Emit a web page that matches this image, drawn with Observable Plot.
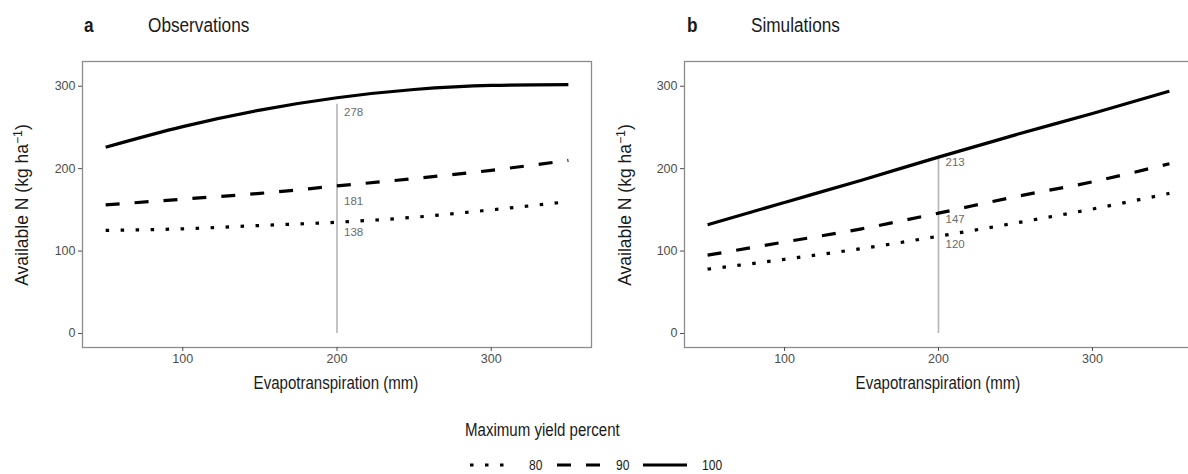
<!DOCTYPE html>
<html><head><meta charset="utf-8">
<script src="https://cdn.jsdelivr.net/npm/d3@7"></script>
<script src="https://cdn.jsdelivr.net/npm/@observablehq/plot@0.6"></script>
<style>
body{margin:0;background:#fff;overflow:hidden;font-family:"Liberation Sans",Arial,sans-serif;color:#1a1a1a;}
#root{position:relative;width:1188px;height:474px;overflow:hidden;}
.abs{position:absolute;white-space:nowrap;line-height:1;}
.c{transform:translate(-50%,-50%) scaleX(0.86);}
.vc{transform:translateY(-50%) scaleX(0.86);transform-origin:0 50%;}
.ytitle{transform:translate(-50%,-50%) rotate(-90deg);font-size:17.5px;}
.xtitle{font-size:17.5px;}
sup{font-size:70%;line-height:0;vertical-align:0.55em;}
.legrow{display:flex;align-items:center;color:#1a1a1a;}
.legrow span{font-size:14px;display:inline-block;transform:scaleX(0.86);transform-origin:0 50%;}
svg{max-width:none !important;}
</style></head><body><div id="root"></div>
<script>
// ---- data ----
const et = [50, 100, 150, 200, 250, 300, 350];           // Evapotranspiration (mm)
const yieldLevels = ["80", "90", "100"];                   // Maximum yield percent
const obs80  = [125, 127, 131, 135, 141, 150, 160];
const obs90  = [156, 163, 170, 179, 188, 198, 210];
const obs100 = [226, 251, 271, 286, 296, 301, 302];
const sim80  = [78, 90, 103, 118, 134, 151, 170];
const sim90  = [95, 111, 127, 146, 166, 184, 206];
const sim100 = [132, 159, 186, 214, 241, 267, 294];
const refET = 200;
const obsRefTop = 278, simRefTop = 213;
const obsLabels = [278, 181, 138];
const obsLabelAt = [268, 160, 123];
const simLabels = [213, 147, 120];
const simLabelAt = [208, 139, 108];
const xTicks = [100, 200, 300];
const yTicks = [0, 100, 200, 300];
const panelTitles = [["a", "Observations"], ["b", "Simulations"]];
const xTitle = "Evapotranspiration (mm)";
const legendTitle = "Maximum yield percent";

const dash = {"80": "3.5,11.5", "90": "14,15", "100": null};

function rows(series) {
  const out = [];
  yieldLevels.forEach((lv, k) => et.forEach((e, i) => out.push({et: e, n: series[k][i], level: lv})));
  return out;
}

function panel(series, refTop, labels, labelAt, opts) {
  const data = rows(series);
  const lines = yieldLevels.map(lv => Plot.line(data.filter(d => d.level === lv), {
    x: "et", y: "n", stroke: "#000", strokeWidth: 3.2, curve: "monotone-x",
    strokeDasharray: dash[lv] || undefined, strokeLinecap: "butt"
  }));
  const lab = labels.map((v, i) => ({et: refET, y: labelAt[i], t: String(v)}));
  const svg = Plot.plot({
    width: opts.width, height: 400,
    marginLeft: opts.ml, marginRight: opts.mr, marginTop: 61, marginBottom: 53,
    x: {domain: [35, 365]},
    y: {domain: [-17, 330]},
    style: {fontFamily: "Liberation Sans, Arial, sans-serif", fontSize: "12.5px", background: "transparent", overflow: "visible"},
    marks: [
      Plot.ruleX([{x: refET, y1: 0, y2: refTop}], {x: "x", y1: "y1", y2: "y2", stroke: "#b5b5b5", strokeWidth: 1.6}),
      ...lines,
      Plot.text(lab, {x: "et", y: "y", text: "t", textAnchor: "start", dx: 7, fill: "#6b6b6b", fontSize: 11.5}),
      Plot.frame({stroke: "#8c8c8c", strokeWidth: 1.3}),
      Plot.axisX({ticks: xTicks, label: null, tickSize: 4, tickPadding: 3, color: "#4d4d4d", fontSize: 12.5}),
      Plot.axisY({ticks: yTicks, label: null, tickSize: 4, tickPadding: 3, color: "#4d4d4d", fontSize: 12.5})
    ]
  });
  svg.style.maxWidth = "none";
  return svg;
}

const root = document.getElementById("root");
function place(el, left, top, width) {
  const w = document.createElement("div");
  w.className = "abs"; w.style.left = left + "px"; w.style.top = top + "px";
  if (width) w.style.width = width + "px";
  w.appendChild(el); root.appendChild(w); return w;
}
function txt(html, left, top, cls, style) {
  const d = document.createElement("div");
  d.className = "abs " + (cls || ""); d.innerHTML = html;
  d.style.left = left + "px"; d.style.top = top + "px";
  if (style) Object.assign(d.style, style);
  root.appendChild(d); return d;
}

place(panel([obs80, obs90, obs100], obsRefTop, obsLabels, obsLabelAt, {width: 594, ml: 82, mr: 3}), 0, 0, 594);
place(panel([sim80, sim90, sim100], simRefTop, simLabels, simLabelAt, {width: 600, ml: 90, mr: 2}), 594, 0, 600);

// panel titles
[[84, 148], [687, 751]].forEach(([xa, xb], i) => {
  txt(panelTitles[i][0], xa, 25, "vc", {fontSize: "20px", fontWeight: "bold"});
  txt(panelTitles[i][1], xb, 25, "vc", {fontSize: "20px"});
});
// axis titles
const yt = "Available N (kg ha<sup>\u22121</sup>)";
txt(yt, 23, 205, "ytitle");
txt(yt, 626, 205, "ytitle");
txt(xTitle, 336, 384, "c xtitle");
txt(xTitle, 938, 384, "c xtitle");

// legend
txt(legendTitle, 465, 431, "vc", {fontSize: "17.5px"});
const row = document.createElement("div");
row.className = "legrow";
yieldLevels.forEach((lv, i) => {
  const svg = d3.create("svg").attr("width", 44).attr("height", 10);
  svg.append("line").attr("x1", 0).attr("x2", 44).attr("y1", 5).attr("y2", 5)
    .attr("stroke", "#000").attr("stroke-width", 3.2)
    .attr("stroke-dasharray", dash[lv] || null);
  const node = svg.node(); node.style.display = "block";
  row.appendChild(node);
  const s = document.createElement("span");
  s.textContent = lv; s.style.marginLeft = "15px"; s.style.marginRight = i < 2 ? "12px" : "0";
  row.appendChild(s);
});
const lw = place(row, 470, 465);
lw.style.transform = "translateY(-50%)";
</script></body></html>
